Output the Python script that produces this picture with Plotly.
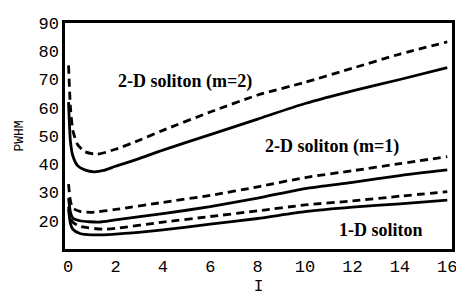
import plotly.graph_objects as go

# Intensity values (x) and FWHM values for each curve
I_m2_solid = [0.02, 0.1, 0.2, 0.4, 0.7, 1.1, 1.5, 2, 3, 4, 6, 8, 10, 12, 14, 16]
F_m2_solid = [62, 48, 43, 39.5, 38, 37.3, 37.8, 39.3, 42, 45, 50.5, 56, 61.5, 66, 70, 74.2]

I_m2_dash = [0.02, 0.1, 0.2, 0.4, 0.7, 1.2, 2, 3, 4, 6, 8, 10, 12, 14, 16]
F_m2_dash = [75, 60, 52, 47, 44.5, 43.5, 45.3, 48.5, 52, 58.5, 64.5, 69, 74, 79, 83.3]

I_m1_dash = [0.02, 0.1, 0.2, 0.5, 1, 2, 4, 6, 8, 10, 12, 14, 16]
F_m1_dash = [33, 27, 24.5, 23.3, 23, 24, 26.5, 29, 32, 35.3, 37.7, 40.2, 42.7]

I_m1_solid = [0.02, 0.1, 0.2, 0.5, 1.3, 2, 4, 6, 8, 10, 12, 14, 16]
F_m1_solid = [28, 23, 21, 20, 19.5, 20.3, 22.5, 25, 28, 31.4, 33.6, 36, 38]

I_1d_dash = [0.02, 0.1, 0.2, 0.5, 1.5, 2, 4, 6, 8, 10, 12, 14, 16]
F_1d_dash = [25, 21, 19.5, 18, 17, 17.3, 19.5, 21.5, 23.5, 25.6, 27, 28.7, 30.3]

I_1d_solid = [0.02, 0.1, 0.2, 0.5, 1, 2, 4, 6, 8, 10, 12, 14, 16]
F_1d_solid = [24, 19, 17, 15.5, 15, 15.3, 16.8, 18.8, 20.8, 23.2, 24.8, 26, 27.3]

x_ticks = [0, 2, 4, 6, 8, 10, 12, 14, 16]
y_ticks = [20, 30, 40, 50, 60, 70, 80, 90]

labels = ["2-D soliton (m=2)", "2-D soliton (m=1)", "1-D soliton"]
label_x = [4.94, 11.14, 13.2]
label_y = [69.2, 46.4, 16.8]

fig = go.Figure()
curves = [
    (I_m2_solid, F_m2_solid, "solid"),
    (I_m2_dash, F_m2_dash, "8px,5px"),
    (I_m1_solid, F_m1_solid, "solid"),
    (I_m1_dash, F_m1_dash, "8px,5px"),
    (I_1d_solid, F_1d_solid, "solid"),
    (I_1d_dash, F_1d_dash, "8px,5px"),
]
for xs, ys, dash in curves:
    fig.add_trace(go.Scatter(x=xs, y=ys, mode="lines",
                             line=dict(color="black", width=2.8, dash=dash,
                                       shape="spline", smoothing=0.6),
                             showlegend=False, hoverinfo="skip"))

for t, lx, ly in zip(labels, label_x, label_y):
    fig.add_annotation(x=lx, y=ly, xref="x", yref="y", text="<b>%s</b>" % t,
                       showarrow=False,
                       font=dict(family="Liberation Serif", size=18, color="black"))

axis_font = dict(family="Liberation Mono", size=17, color="black")
fig.update_xaxes(range=[-0.13, 16.2], tickvals=x_ticks, ticks="", showgrid=False,
                 zeroline=False, showline=True, linecolor="black", linewidth=2.5,
                 mirror=True, tickfont=axis_font,
                 title=dict(text="I", font=dict(family="Liberation Mono", size=16, color="black"),
                            standoff=4))
fig.update_yaxes(range=[10, 90], tickvals=y_ticks, ticks="", showgrid=False,
                 zeroline=False, showline=True, linecolor="black", linewidth=2.5,
                 mirror=True, tickfont=axis_font,
                 title=dict(text="PWHM", font=dict(family="Liberation Mono", size=13, color="black"),
                            standoff=12))
fig.update_layout(width=456, height=291, margin=dict(l=57, r=12, t=7, b=46),
                  plot_bgcolor="white", paper_bgcolor="white")
fig.write_html("out.html")
